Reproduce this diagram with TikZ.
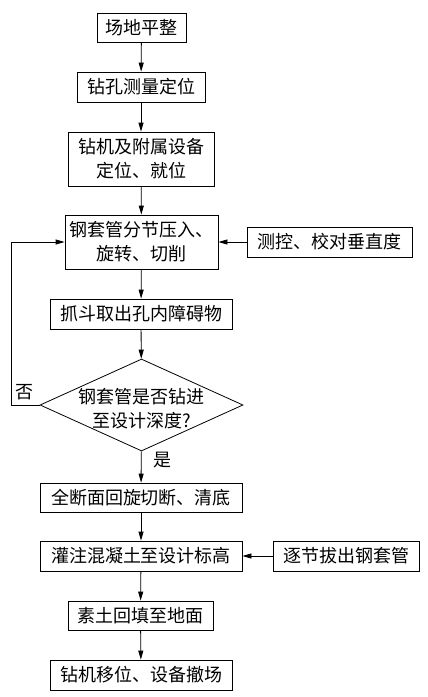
\documentclass[tikz,border=0pt]{standalone}
\usepackage{fontspec}
\newfontfamily\cjk{Noto Sans CJK SC}
\usetikzlibrary{arrows.meta,shapes.geometric}
\begin{document}
\begin{tikzpicture}[x=1pt,y=-1pt,
  every node/.style={font=\cjk\fontsize{18}{24}\selectfont},
  box/.style={draw,line width=0.8pt,inner sep=0pt,align=center},
  arr/.style={draw,line width=0.8pt,-{Triangle[length=9pt,width=5pt]}},
  lbl/.style={inner sep=0pt}]
\useasboundingbox (0,0) rectangle (428,697);
\node[box,minimum width=89pt,minimum height=29pt] (b1) at (141.5,27.5) {场地平整};
\node[box,minimum width=128pt,minimum height=30pt] (b2) at (141,87) {钻孔测量定位};
\node[box,minimum width=146pt,minimum height=54pt] (b3) at (141,159) {钻机及附属设备\\定位、就位};
\node[box,minimum width=153pt,minimum height=54pt] (b4) at (141.5,242) {钢套管分节压入、\\旋转、切削};
\node[box,minimum width=165pt,minimum height=30pt] (s1) at (329.5,242) {测控、校对垂直度};
\node[box,minimum width=182pt,minimum height=30pt] (b5) at (141,314) {抓斗取出孔内障碍物};
\node[draw,line width=0.8pt,diamond,inner sep=0pt,minimum width=203pt,minimum height=92pt] (d) at (141.5,405) {};
\node[align=center,inner sep=0pt] (dt) at (141.5,409) {钢套管是否钻进\\至设计深度?};
\node[box,minimum width=202pt,minimum height=29pt] (b7) at (141,497.5) {全断面回旋切断、清底};
\node[box,minimum width=202pt,minimum height=30pt] (b8) at (141,556) {灌注混凝土至设计标高};
\node[box,minimum width=146pt,minimum height=30pt] (s2) at (346,556) {逐节拔出钢套管};
\node[box,minimum width=145pt,minimum height=29pt] (b9) at (140.5,615.5) {素土回填至地面};
\node[box,minimum width=182pt,minimum height=30pt] (b10) at (141,675) {钻机移位、设备撤场};
\node[lbl] (no) at (25,392) {否};
\node[lbl] (yes) at (162,460) {是};
\draw[arr] (b1) -- (b2);
\draw[arr] (b2) -- (b3);
\draw[arr] (b3) -- (b4);
\draw[arr] (b4) -- (b5);
\draw[arr] (b5) -- (d);
\draw[arr] (d) -- (b7);
\draw[arr] (b7) -- (b8);
\draw[arr] (b8) -- (b9);
\draw[arr] (b9) -- (b10);
\draw[arr] (s1) -- (b4);
\draw[arr] (s2) -- (b8);
\draw[arr] (d.west) -- ++(-28,0) |- (b4.west);
\end{tikzpicture}
\end{document}
